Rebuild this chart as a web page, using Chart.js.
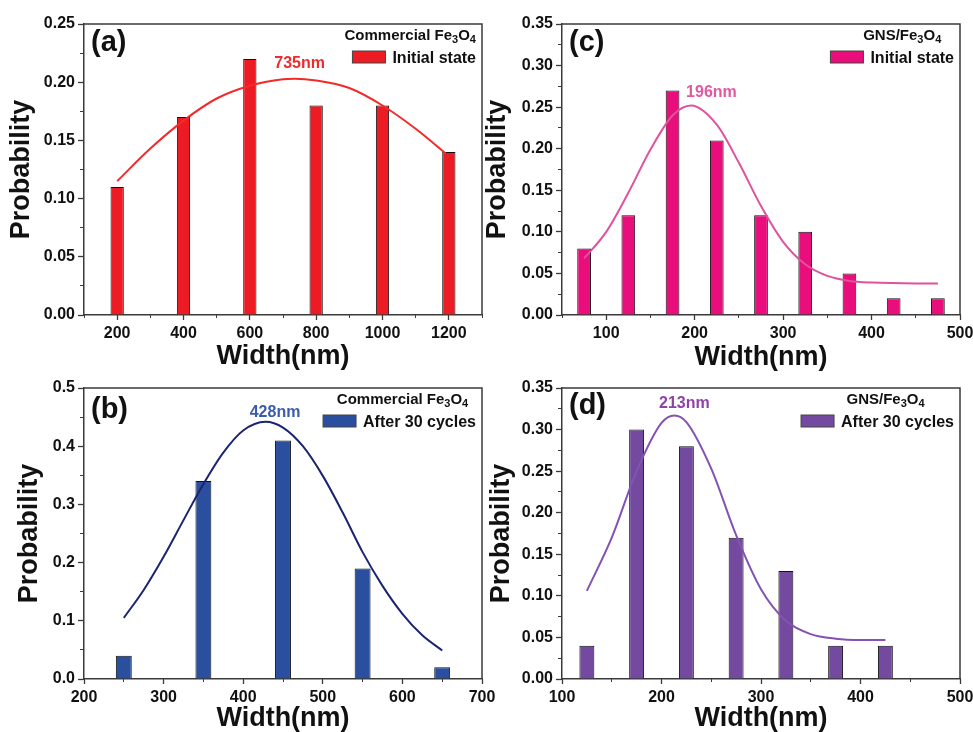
<!DOCTYPE html>
<html>
<head>
<meta charset="utf-8">
<title>Width distribution of Fe3O4 particles</title>
<script src="https://cdn.jsdelivr.net/npm/chart.js"></script>
<style>
  html, body { margin: 0; padding: 0; background: #fff; }
  body { width: 973px; height: 732px; position: relative; overflow: hidden; }
  canvas { position: absolute; left: 0; top: 0; }
</style>
</head>
<body>
<canvas id="panelA" width="973" height="732"></canvas>
<canvas id="panelB" width="973" height="732"></canvas>
<canvas id="panelC" width="973" height="732"></canvas>
<canvas id="panelD" width="973" height="732"></canvas>
<script>
// (a) commercial Fe3O4, initial state
const aWidths = [200, 400, 600, 800, 1000, 1200];
const aProb = [0.11, 0.17, 0.22, 0.18, 0.18, 0.14];
const aFitX = [200, 300, 400, 500, 600, 700, 735, 800, 900, 1000, 1100, 1190];
const aFitY = [0.115, 0.143, 0.167, 0.186, 0.197, 0.2025, 0.203, 0.2015, 0.195, 0.180, 0.160, 0.139];
const aTicksX = [200, 400, 600, 800, 1000, 1200];
const aTicksY = [0, 0.05, 0.10, 0.15, 0.20, 0.25];

// (b) commercial Fe3O4, after 30 cycles
const bWidths = [250, 350, 450, 550, 650];
const bProb = [0.04, 0.34, 0.41, 0.19, 0.02];
const bFitX = [250, 275, 300, 325, 350, 375, 400, 428, 450, 475, 500, 525, 550, 575, 600, 625, 650];
const bFitY = [0.105, 0.153, 0.210, 0.273, 0.335, 0.389, 0.427, 0.442, 0.432, 0.400, 0.349, 0.286, 0.218, 0.160, 0.112, 0.075, 0.049];
const bTicksX = [200, 300, 400, 500, 600, 700];
const bTicksY = [0, 0.1, 0.2, 0.3, 0.4, 0.5];

// (c) GNS/Fe3O4, initial state
const cWidths = [75, 125, 175, 225, 275, 325, 375, 425, 475];
const cProb = [0.08, 0.12, 0.27, 0.21, 0.12, 0.10, 0.05, 0.02, 0.02];
const cFitX = [75, 100, 125, 150, 175, 196, 225, 250, 275, 300, 325, 350, 375, 400, 450, 475];
const cFitY = [0.068, 0.100, 0.147, 0.199, 0.240, 0.252, 0.229, 0.183, 0.131, 0.088, 0.061, 0.047, 0.041, 0.039, 0.038, 0.038];
const cTicksX = [100, 200, 300, 400, 500];
const cTicksY = [0, 0.05, 0.10, 0.15, 0.20, 0.25, 0.30, 0.35];

// (d) GNS/Fe3O4, after 30 cycles
const dWidths = [125, 175, 225, 275, 325, 375, 425];
const dProb = [0.04, 0.30, 0.28, 0.17, 0.13, 0.04, 0.04];
const dFitX = [125, 150, 175, 200, 213, 225, 250, 275, 300, 325, 350, 375, 400, 425];
const dFitY = [0.106, 0.170, 0.250, 0.308, 0.317, 0.309, 0.253, 0.173, 0.108, 0.070, 0.054, 0.0485, 0.047, 0.047];
const dTicksX = [100, 200, 300, 400, 500];
const dTicksY = [0, 0.05, 0.10, 0.15, 0.20, 0.25, 0.30, 0.35];

const FONT = '"Liberation Sans", Arial, sans-serif';
const AXIS = '#3a3a3a';
const INK = '#111';
const PAGE_W = 973, PAGE_H = 732;

function steps(min, max, step) {
  const out = [];
  for (let v = min; v <= max + step / 1000; v += step) out.push(+v.toFixed(4));
  return out;
}

// frame, panel tag, peak label and legend box
const panelDecor = {
  id: 'panelDecor',
  afterDraw(chart, args, o) {
    const { ctx, chartArea: ca, scales } = chart;
    ctx.save();
    ctx.strokeStyle = AXIS;
    ctx.lineWidth = 1.5;
    ctx.beginPath();
    ctx.moveTo(ca.left, ca.top);
    ctx.lineTo(ca.right, ca.top);
    ctx.lineTo(ca.right, ca.bottom);
    ctx.stroke();

    ctx.fillStyle = INK;
    ctx.textAlign = 'left';
    ctx.textBaseline = 'middle';
    ctx.font = 'bold 29px ' + FONT;
    ctx.fillText(o.tag, ca.left + 7, ca.top + o.tagDy);

    ctx.fillStyle = o.peakColor;
    ctx.textAlign = 'center';
    ctx.font = 'bold 16px ' + FONT;
    ctx.fillText(o.peakText, scales.x.getPixelForValue(o.peakAt[0]), scales.y.getPixelForValue(o.peakAt[1]));

    // legend item
    const bar = chart.data.datasets[1];
    ctx.textBaseline = 'alphabetic';
    ctx.textAlign = 'left';
    ctx.font = 'bold 16px ' + FONT;
    const textRight = ca.right - 6;
    const textLeft = textRight - ctx.measureText(bar.label).width;
    const swR = textLeft - 7, swL = swR - 33;
    ctx.fillStyle = bar.backgroundColor;
    ctx.fillRect(swL, ca.top + 27, 33, 12);
    ctx.lineWidth = 1;
    ctx.strokeStyle = '#444';
    ctx.strokeRect(swL, ca.top + 27, 33, 12);
    ctx.fillStyle = INK;
    ctx.fillText(bar.label, textLeft, ca.top + 39);

    // legend header with subscripts
    const big = 'bold 15px ' + FONT, small = 'bold 11px ' + FONT;
    let w = 0;
    o.header.forEach(([t, sub]) => { ctx.font = sub ? small : big; w += ctx.measureText(t).width; });
    let x = (swL + textRight) / 2 + o.headDx - w / 2;
    o.header.forEach(([t, sub]) => {
      ctx.font = sub ? small : big;
      ctx.fillText(t, x, ca.top + 16 + (sub ? 3 : 0));
      x += ctx.measureText(t).width;
    });
    ctx.restore();
  }
};

function makePanel(id, p) {
  const titleSize = 27;
  const yLeft = p.probX - titleSize / 2;
  const xBottom = p.widthY + titleSize / 2;
  const tickFont = { family: FONT, size: 16, weight: 'bold' };
  const titleFont = { family: FONT, size: titleSize, weight: 'bold', lineHeight: 1 };
  const fmtX = v => String(v);
  const fmtY = v => v.toFixed(p.dec);

  new Chart(document.getElementById(id), {
    type: 'bar',
    data: {
      datasets: [
        {
          type: 'line',
          label: 'Gaussian fit',
          data: p.fitX.map((x, i) => ({ x, y: p.fitY[i] })),
          borderColor: p.curve,
          borderWidth: 2,
          pointRadius: 0,
          cubicInterpolationMode: 'monotone',
          fill: false,
          order: 0
        },
        {
          type: 'bar',
          label: p.label,
          data: p.widths.map((x, i) => ({ x, y: p.prob[i] })),
          backgroundColor: p.bar,
          borderColor: INK,
          borderWidth: 1,
          barPercentage: p.barPct,
          categoryPercentage: 1,
          order: 1
        }
      ]
    },
    options: {
      responsive: false,
      animation: false,
      events: [],
      layout: {
        padding: { left: yLeft, top: p.area.top, right: PAGE_W - p.area.right, bottom: PAGE_H - xBottom }
      },
      plugins: {
        legend: { display: false },
        tooltip: { enabled: false },
        panelDecor: {
          tag: p.tag, tagDy: p.tagDy,
          peakText: p.peakText, peakAt: p.peakAt, peakColor: p.peakColor,
          header: p.header, headDx: p.headDx
        }
      },
      scales: {
        x: {
          type: 'linear', position: 'bottom', weight: 1,
          min: p.xMin, max: p.xMax, offset: false,
          afterBuildTicks: s => { s.ticks = p.ticksX.map(v => ({ value: v })); },
          afterFit: s => { s.height = xBottom - p.area.bottom; s.paddingLeft = 0; s.paddingRight = 0; },
          grid: { drawOnChartArea: false, offset: false, tickLength: 5, color: AXIS, tickWidth: 1.3 },
          border: { color: AXIS, width: 1.5 },
          ticks: { font: tickFont, color: INK, padding: 4, maxRotation: 0, autoSkip: false, callback: fmtX },
          title: { display: true, text: 'Width(nm)', font: titleFont, color: INK, padding: 0 }
        },
        xMinor: {
          type: 'linear', position: 'bottom', weight: 0,
          min: p.xMin, max: p.xMax, offset: false,
          afterBuildTicks: s => { s.ticks = steps(p.xMin, p.xMax, p.xMinor).map(v => ({ value: v })); },
          afterFit: s => { s.height = 0; s.paddingLeft = 0; s.paddingRight = 0; },
          grid: { drawOnChartArea: false, offset: false, tickLength: 3, color: AXIS, tickWidth: 1 },
          border: { display: false },
          ticks: { display: false }
        },
        y: {
          type: 'linear', position: 'left', weight: 1,
          min: 0, max: p.yMax,
          afterBuildTicks: s => { s.ticks = p.ticksY.map(v => ({ value: v })); },
          afterFit: s => { s.width = p.area.left - yLeft; s.paddingTop = 0; s.paddingBottom = 0; },
          grid: { drawOnChartArea: false, tickLength: 6, color: AXIS, tickWidth: 1.3 },
          border: { color: AXIS, width: 1.5 },
          ticks: { font: tickFont, color: INK, padding: 3, autoSkip: false, callback: fmtY },
          title: { display: true, text: 'Probability', font: titleFont, color: INK, padding: 0 }
        },
        yMinor: {
          type: 'linear', position: 'left', weight: 0,
          min: 0, max: p.yMax,
          afterBuildTicks: s => { s.ticks = steps(0, p.yMax, p.yMinor).map(v => ({ value: v })); },
          afterFit: s => { s.width = 0; s.paddingTop = 0; s.paddingBottom = 0; },
          grid: { drawOnChartArea: false, tickLength: 4, color: AXIS, tickWidth: 1 },
          border: { display: false },
          ticks: { display: false }
        }
      }
    },
    plugins: [panelDecor]
  });
}

makePanel('panelA', {
  area: { left: 84, top: 24, right: 482, bottom: 315 }, probX: 22, widthY: 357,
  xMin: 100, xMax: 1300, xMinor: 100, yMax: 0.25, yMinor: 0.025, dec: 2,
  ticksX: aTicksX, ticksY: aTicksY,
  widths: aWidths, prob: aProb, fitX: aFitX, fitY: aFitY, barPct: 0.2,
  bar: '#ed1c24', curve: '#f42a2a', label: 'Initial state',
  tag: '(a)', tagDy: 18.5, peakText: '735nm', peakAt: [750, 0.216], peakColor: '#ef2b2b',
  header: [['Commercial Fe', false], ['3', true], ['O', false], ['4', true]], headDx: -4
});

makePanel('panelB', {
  area: { left: 84, top: 388, right: 482, bottom: 679 }, probX: 30, widthY: 719,
  xMin: 200, xMax: 700, xMinor: 50, yMax: 0.5, yMinor: 0.05, dec: 1,
  ticksX: bTicksX, ticksY: bTicksY,
  widths: bWidths, prob: bProb, fitX: bFitX, fitY: bFitY, barPct: 0.2,
  bar: '#2a4f9f', curve: '#1c2470', label: 'After 30 cycles',
  tag: '(b)', tagDy: 22, peakText: '428nm', peakAt: [440, 0.458], peakColor: '#3a5cae',
  header: [['Commercial Fe', false], ['3', true], ['O', false], ['4', true]], headDx: 3
});

makePanel('panelC', {
  area: { left: 562, top: 24, right: 960, bottom: 315 }, probX: 498, widthY: 358,
  xMin: 50, xMax: 500, xMinor: 50, yMax: 0.35, yMinor: 0.025, dec: 2,
  ticksX: cTicksX, ticksY: cTicksY,
  widths: cWidths, prob: cProb, fitX: cFitX, fitY: cFitY, barPct: 0.31,
  bar: '#e90e7b', curve: '#e0529c', label: 'Initial state',
  tag: '(c)', tagDy: 19, peakText: '196nm', peakAt: [219, 0.268], peakColor: '#e358a0',
  header: [['GNS/Fe', false], ['3', true], ['O', false], ['4', true]], headDx: 10
});

makePanel('panelD', {
  area: { left: 562, top: 388, right: 960, bottom: 679 }, probX: 502, widthY: 719,
  xMin: 100, xMax: 500, xMinor: 50, yMax: 0.35, yMinor: 0.025, dec: 2,
  ticksX: dTicksX, ticksY: dTicksY,
  widths: dWidths, prob: dProb, fitX: dFitX, fitY: dFitY, barPct: 0.3,
  bar: '#734a9f', curve: '#8352b2', label: 'After 30 cycles',
  tag: '(d)', tagDy: 18, peakText: '213nm', peakAt: [223, 0.331], peakColor: '#9041a8',
  header: [['GNS/Fe', false], ['3', true], ['O', false], ['4', true]], headDx: 8
});
</script>
</body>
</html>
